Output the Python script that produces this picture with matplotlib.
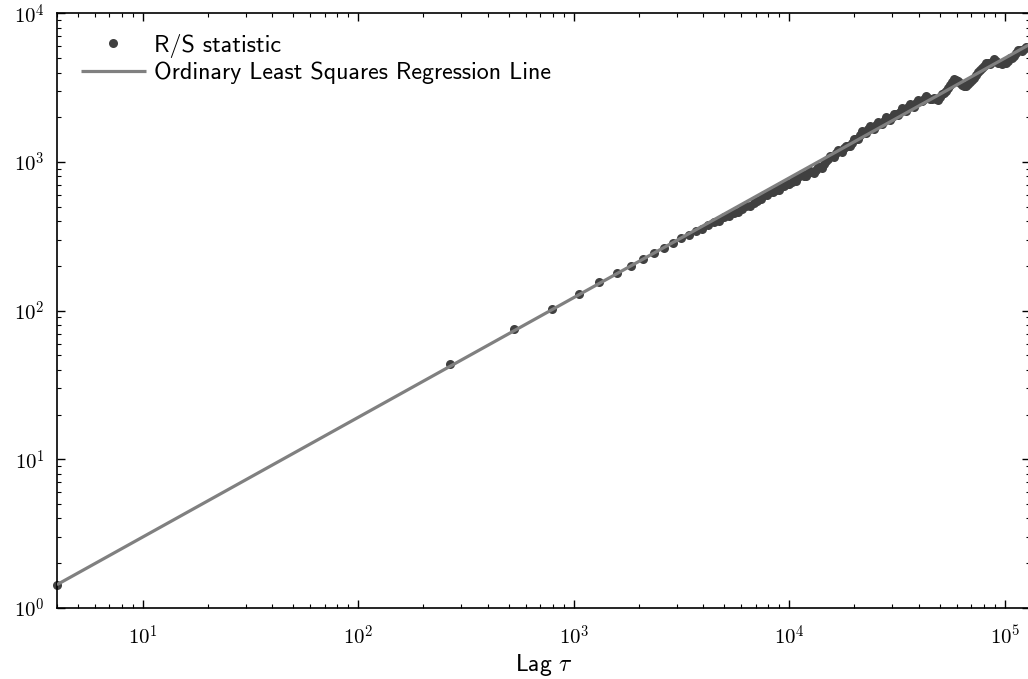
import numpy as np
import matplotlib
matplotlib.use("Agg")
import matplotlib.pyplot as plt
from matplotlib.ticker import FuncFormatter, NullFormatter

plt.rcParams['font.family'] = ['cmss10', 'DejaVu Sans']
plt.rcParams['mathtext.fontset'] = 'cm'
plt.rcParams['axes.formatter.use_mathtext'] = True

# Lag values (tau)
lags = [4, 267, 529, 792, 1055, 1317, 1580, 1843, 2105, 2368,
        2631, 2893, 3156, 3419, 3681, 3944, 4206, 4469, 4732, 4994,
        5257, 5520, 5782, 6045, 6308, 6570, 6833, 7095, 7358, 7621,
        7883, 8146, 8409, 8671, 8934, 9196, 9459, 9722, 9984,
        10247, 10510, 10772, 11035,
        11429, 11675, 11927, 12186, 12450, 12720, 12995, 13275, 13561, 13855,
        14155, 14462, 14775, 15092, 15416, 15750, 16091, 16440, 16796, 17156,
        17524, 17904, 18291, 18684, 19085, 19499, 19922, 20354, 20795, 21241,
        21698, 22168, 22646, 23134, 23632, 24145, 24667, 25202, 25747, 26304,
        26870, 27452, 28046, 28654, 29274, 29908, 30549, 31213, 31886, 32577,
        33281, 33998, 34730, 35482, 36250, 37029, 37826, 38645, 39482, 40337,
        41210, 42096, 42999, 43927, 44875, 45847, 46840, 47845, 48871, 49930,
        51010, 52115, 53243, 54391, 55563, 56766, 57995, 59245, 60520, 61830,
        63168, 64536, 65934, 67354, 68805, 70295, 71817, 73364, 74944, 76567,
        78226, 79919, 81650, 83408, 85205, 87046, 88925, 90853, 92820, 94814,
        96850, 98947, 101090, 103272, 105510, 107781, 110100, 112488, 114930, 117404,
        119930, 122530, 125190, 128100, 131072]

# R/S statistic
rs_stat = [1.43, 43.6, 75, 103, 129, 155, 179, 200, 223, 245,
           266, 287, 307, 322, 341, 355, 379, 392, 404, 428,
           432, 456, 459, 483, 507, 508, 532, 549, 565, 599,
           596, 631, 628, 653, 648, 695, 689, 715, 707,
           734, 760, 751, 790,
           826, 801, 803, 842, 870, 857, 846, 887, 931, 932,
           905, 964, 1011, 1045, 1096, 1098, 1083, 1153, 1209, 1193,
           1177, 1234, 1275, 1277, 1280, 1342, 1429, 1430, 1432, 1526,
           1627, 1579, 1557, 1659, 1741, 1689, 1666, 1775, 1863, 1808,
           1811, 1900, 1995, 1935, 1908, 2002, 2100, 2103, 2075, 2176,
           2320, 2251, 2221, 2329, 2444, 2372, 2339, 2493, 2616, 2578,
           2581, 2667, 2799, 2716, 2637, 2643, 2688, 2651, 2614, 2742,
           2876, 2926, 3021, 3170, 3272, 3433, 3604, 3551, 3501, 3400,
           3304, 3258, 3262, 3370, 3481, 3541, 3657, 3837, 4022, 4157,
           4291, 4433, 4654, 4658, 4592, 4744, 4901, 4760, 4623, 4628,
           4566, 4644, 4651, 4804, 5037, 5047, 5133, 5385, 5643, 5652,
           5576, 5762, 5947, 5960, 5967]

series_labels = ['R/S statistic', 'Ordinary Least Squares Regression Line']
x_label = 'Lag $\\tau$'
lag_step = 262.66  # spacing of the original lag grid

n = min(len(lags), len(rs_stat))
lags_a = np.array(lags[:n], dtype=float)
rs_a = np.array(rs_stat[:n], dtype=float)

fig = plt.figure(figsize=(10.28, 6.79), dpi=100)
ax = fig.add_axes([0.0554, 0.1046, 1.002 - 0.0554, 0.9803 - 0.1046])

ax.plot(lags_a, rs_a, 'o', color='#404040', ms=6.5, mec='none',
        label=series_labels[0], clip_on=False, zorder=2)

# OLS in log-log space; each plotted point stands for the lags it spans
n_repr = np.clip(np.gradient(lags_a) / lag_step, 1, None)
n_repr[0] = 1
coef = np.polyfit(np.log10(lags_a), np.log10(rs_a), 1, w=np.sqrt(n_repr))
xl = np.array([lags_a.min(), lags_a.max()])
ax.plot(xl, 10 ** np.polyval(coef, np.log10(xl)), color='#808080', lw=2.3,
        label=series_labels[1], zorder=3, solid_capstyle='butt')

ax.set_xscale('log')
ax.set_yscale('log')
ax.set_xlim(4, 131072)
ax.set_ylim(1, 1e4)

fmt = FuncFormatter(lambda v, p: '$10^{%d}$' % int(round(np.log10(v))))
ax.xaxis.set_major_formatter(fmt)
ax.yaxis.set_major_formatter(fmt)
ax.xaxis.set_minor_formatter(NullFormatter())
ax.yaxis.set_minor_formatter(NullFormatter())

for s in ax.spines.values():
    s.set_linewidth(1.2)
ax.tick_params(which='both', direction='in', top=True, right=True)
ax.tick_params(which='major', length=6, width=1.0, labelsize=15)
ax.tick_params(axis='x', which='major', pad=12)
ax.tick_params(axis='y', which='major', pad=9)
ax.tick_params(which='minor', length=3.2, width=0.8)

ax.set_xlabel(x_label, fontsize=17, labelpad=2)
ax.legend(loc='upper left', bbox_to_anchor=(0.0, 1.006), frameon=False,
          fontsize=17.3, handlelength=2.7, borderaxespad=0.6,
          handletextpad=0.35, labelspacing=0.15)

fig.savefig('out.png', dpi=100)
